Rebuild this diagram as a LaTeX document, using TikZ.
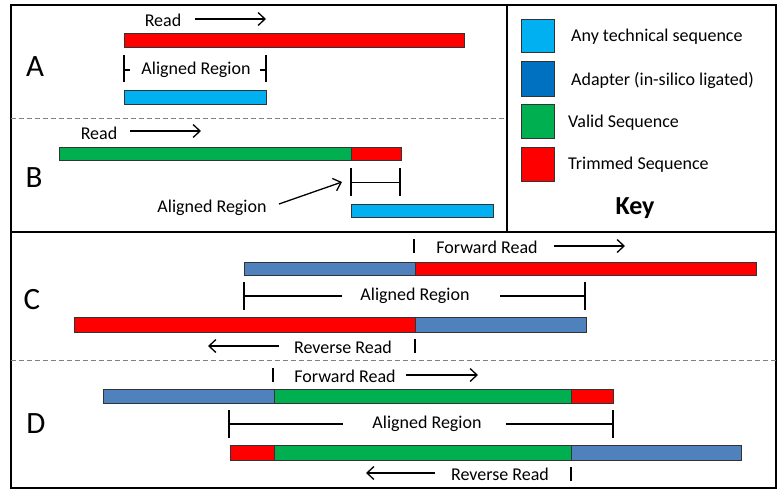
\documentclass[tikz,border=0pt]{standalone}
\usepackage{fontspec}
\setmainfont{Carlito}
\usetikzlibrary{arrows.meta}
\definecolor{techblue}{HTML}{00B0F0}
\definecolor{adaptblue}{HTML}{0070C0}
\definecolor{barblue}{HTML}{4F81BD}
\definecolor{validgreen}{HTML}{00B050}
\definecolor{trimred}{HTML}{FF0000}
\begin{document}
\begin{tikzpicture}[x=1pt,y=-1pt,
  frame/.style={line width=1.3pt},
  sep/.style={draw=gray, line width=1pt, dash pattern=on 5pt off 3pt},
  bar/.style={draw=black!80, line width=0.6pt},
  bk/.style={line width=1.4pt},
  arr/.style={line width=1.3pt,-{Straight Barb[length=7pt,width=13pt,line width=1.3pt]}},
  lbl/.style={inner sep=0pt, font=\fontsize{18}{20}\selectfont},
  big/.style={inner sep=0pt, font=\fontsize{31}{34}\selectfont},
  keybox/.style={draw=black!80, line width=0.8pt}]
\useasboundingbox (0,0) rectangle (777,496);
% frames
\draw[frame] (11,5) rectangle (776,488);
\draw[frame] (11,232) -- (776,232);
\draw[frame] (507,5) -- (507,232);
\draw[sep] (11,118) -- (507,118);
\draw[sep] (11,360) -- (776,360);

% ---------- A ----------
\node[big] (A) at (35,67) {A};
\node[lbl] (aRead) at (163,20) {Read};
\coordinate (aR1) at (195,19); \coordinate (aR2) at (266,19);
\draw[arr] (aR1) -- (aR2);
\draw[bar, fill=trimred] (124,33) rectangle (464,47);
\coordinate (aB1) at (124,55); \coordinate (aB2) at (124,82);
\coordinate (aB3) at (266,55); \coordinate (aB4) at (266,82);
\draw[bk] (aB1) -- (aB2);
\draw[bk] (aB3) -- (aB4);
\draw[bk] (124,70) -- (130,70);
\draw[bk] (260,70) -- (266,70);
\node[lbl] (aAR) at (196,70) {Aligned Region};
\draw[bar, fill=techblue] (124,90) rectangle (266,104);

% ---------- B ----------
\node[big] (B) at (34,178) {B};
\node[lbl] (bRead) at (99,133) {Read};
\coordinate (bR1) at (130,131); \coordinate (bR2) at (201,131);
\draw[arr] (bR1) -- (bR2);
\draw[bar, fill=validgreen] (59,147) rectangle (351,160);
\draw[bar, fill=trimred] (351,147) rectangle (401,160);
\coordinate (bB1) at (351,168); \coordinate (bB2) at (351,196);
\coordinate (bB3) at (400,168); \coordinate (bB4) at (400,196);
\draw[bk] (bB1) -- (bB2);
\draw[bk] (bB3) -- (bB4);
\draw[line width=1pt] (351,182) -- (400,182);
\node[lbl] (bAR) at (212,208) {Aligned Region};
\coordinate (bA1) at (279,204); \coordinate (bA2) at (342,182);
\draw[arr] (bA1) -- (bA2);
\draw[bar, fill=techblue] (351,204) rectangle (493,217);

% ---------- Key ----------
\draw[keybox, fill=techblue] (521,19) rectangle (554,52);
\draw[keybox, fill=adaptblue] (521,61) rectangle (554,96);
\draw[keybox, fill=validgreen] (521,104) rectangle (554,138);
\draw[keybox, fill=trimred] (521,147) rectangle (554,181);
\node[lbl, anchor=west] (k1) at (571,37) {Any technical sequence};
\node[lbl, anchor=west] (k2) at (571,80) {Adapter (in-silico ligated)};
\node[lbl, anchor=west] (k3) at (568,123) {Valid Sequence};
\node[lbl, anchor=west] (k4) at (568,165) {Trimmed Sequence};
\node[inner sep=0pt, font=\fontsize{26}{28}\selectfont\bfseries] (key) at (635,208) {Key};

% ---------- C ----------
\node[big] (C) at (32,300) {C};
\coordinate (cT1) at (414,239); \coordinate (cT2) at (414,253);
\draw[bk] (cT1) -- (cT2);
\node[lbl] (cFR) at (487,247) {Forward Read};
\coordinate (cF1) at (554,246); \coordinate (cF2) at (625,246);
\draw[arr] (cF1) -- (cF2);
\draw[bar, fill=barblue] (244,262) rectangle (415,275);
\draw[bar, fill=trimred] (415,262) rectangle (756,275);
\coordinate (cB1) at (244,282); \coordinate (cB2) at (244,310);
\coordinate (cB3) at (585,282); \coordinate (cB4) at (585,310);
\draw[bk] (cB1) -- (cB2);
\draw[bk] (cB3) -- (cB4);
\draw[bk] (244,296) -- (342,296);
\draw[bk] (500,296) -- (585,296);
\node[lbl] (cAR) at (415,296) {Aligned Region};
\draw[bar, fill=trimred] (74,317) rectangle (415,332);
\draw[bar, fill=barblue] (415,317) rectangle (586,332);
\coordinate (cV1) at (279,346); \coordinate (cV2) at (208,346);
\draw[arr] (cV1) -- (cV2);
\node[lbl] (cRR) at (343,347) {Reverse Read};
\coordinate (cT3) at (415,339); \coordinate (cT4) at (415,353);
\draw[bk] (cT3) -- (cT4);

% ---------- D ----------
\node[big] (D) at (36,424) {D};
\coordinate (dT1) at (273,368); \coordinate (dT2) at (273,382);
\draw[bk] (dT1) -- (dT2);
\node[lbl] (dFR) at (345,376) {Forward Read};
\coordinate (dF1) at (406,375); \coordinate (dF2) at (478,375);
\draw[arr] (dF1) -- (dF2);
\draw[bar, fill=barblue] (103,389) rectangle (274,403);
\draw[bar, fill=validgreen] (274,389) rectangle (571,403);
\draw[bar, fill=trimred] (571,389) rectangle (613,403);
\coordinate (dB1) at (229,410); \coordinate (dB2) at (229,438);
\coordinate (dB3) at (613,410); \coordinate (dB4) at (613,438);
\draw[bk] (dB1) -- (dB2);
\draw[bk] (dB3) -- (dB4);
\draw[bk] (229,424) -- (343,424);
\draw[bk] (506,424) -- (613,424);
\node[lbl] (dAR) at (427,424) {Aligned Region};
\draw[bar, fill=trimred] (230,445) rectangle (274,460);
\draw[bar, fill=validgreen] (274,445) rectangle (571,460);
\draw[bar, fill=barblue] (571,445) rectangle (741,460);
\coordinate (dV1) at (435,473); \coordinate (dV2) at (366,473);
\draw[arr] (dV1) -- (dV2);
\node[lbl] (dRR) at (500,474) {Reverse Read};
\coordinate (dT3) at (571,467); \coordinate (dT4) at (571,481);
\draw[bk] (dT3) -- (dT4);
\end{tikzpicture}
\end{document}
